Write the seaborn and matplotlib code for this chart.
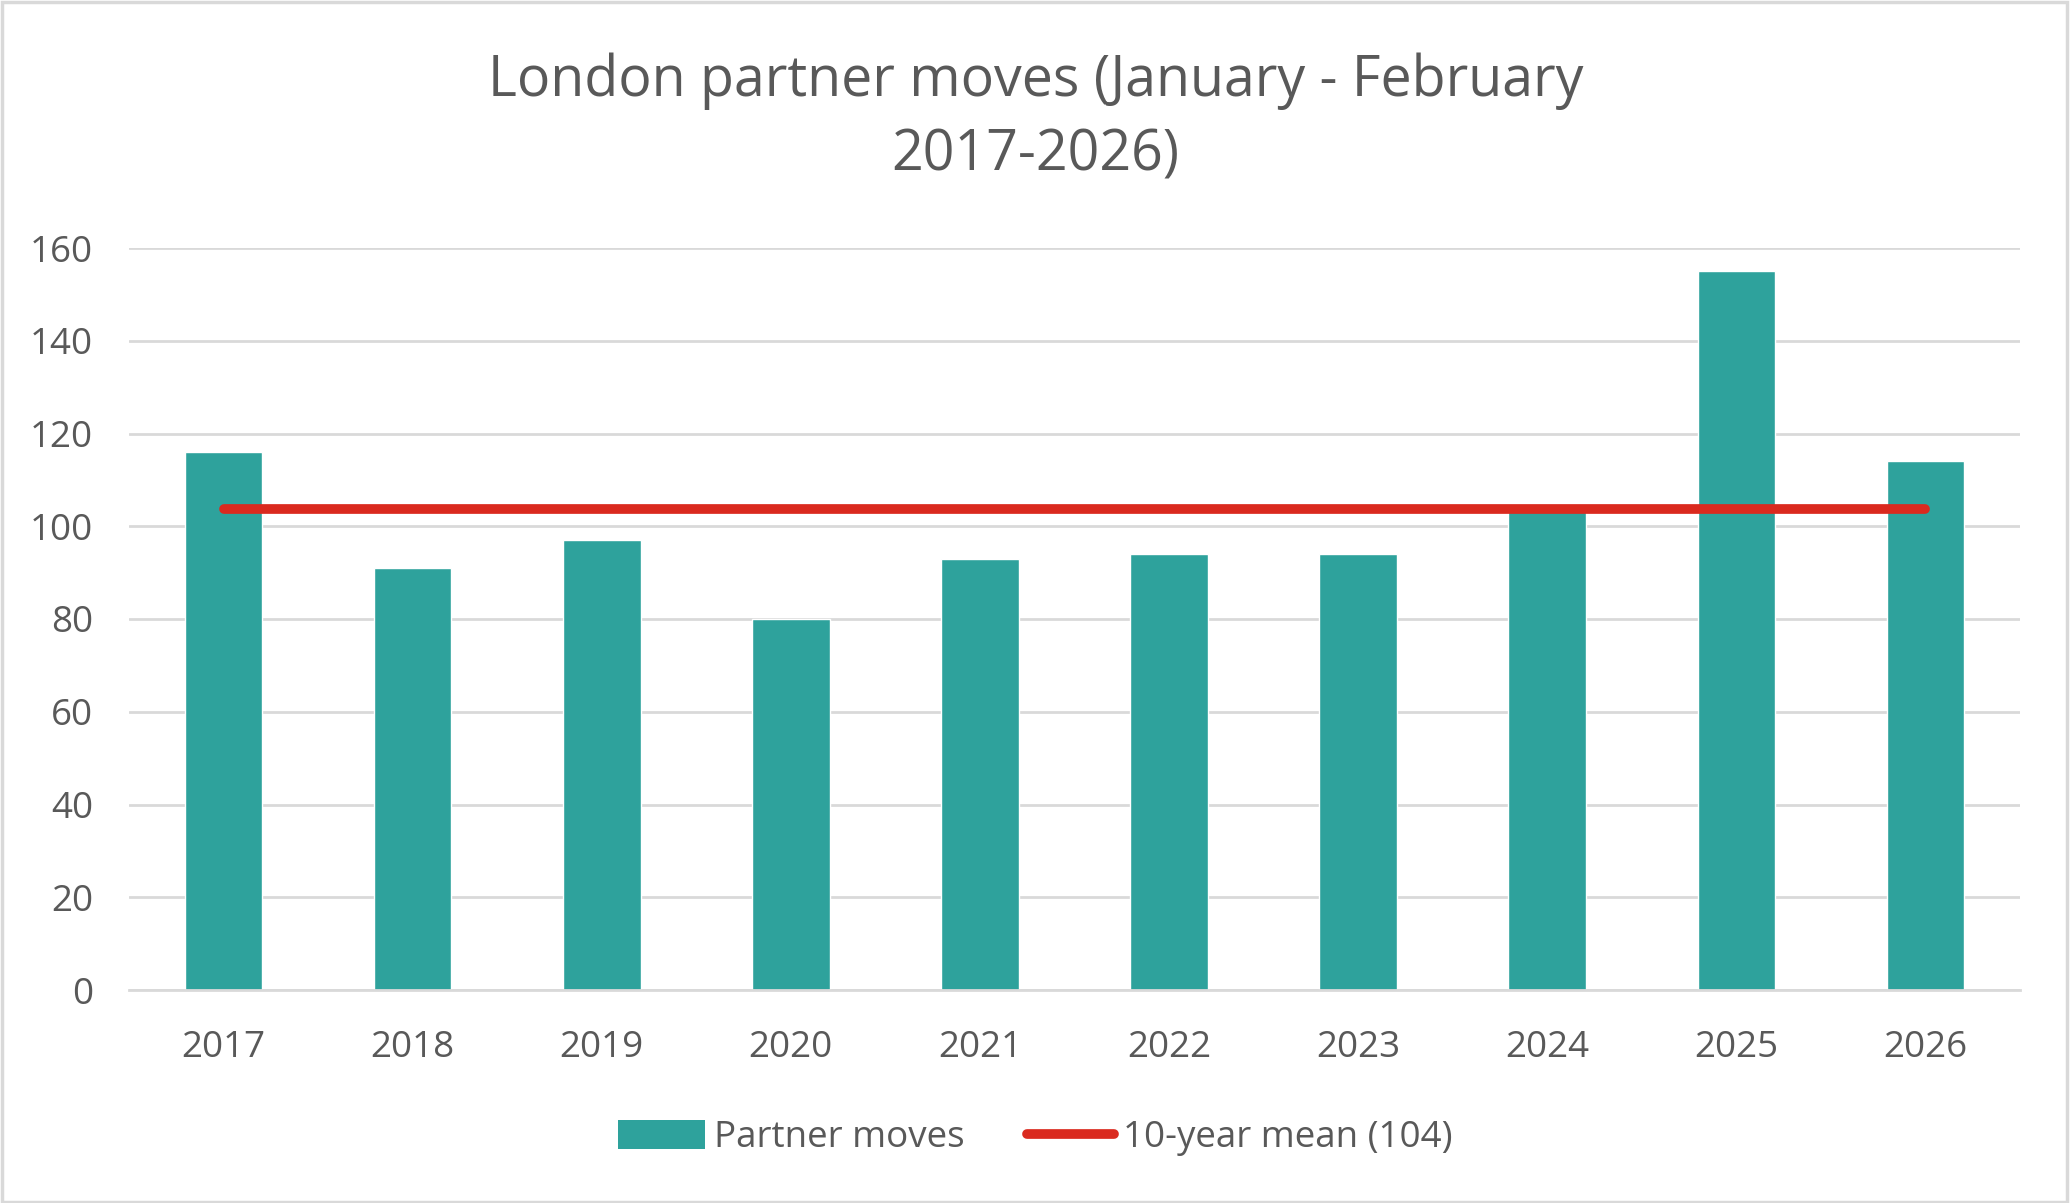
import numpy as np
import pandas as pd
import matplotlib
matplotlib.use("Agg")
import matplotlib.pyplot as plt
import seaborn as sns
from matplotlib.patches import Rectangle
from matplotlib.lines import Line2D
from matplotlib.patches import Patch

years = ["2017", "2018", "2019", "2020", "2021", "2022", "2023", "2024", "2025", "2026"]
partner_moves = [116, 91, 97, 80, 93, 94, 94, 104, 155, 114]
mean_value = float(np.mean(partner_moves))
mean_line = [mean_value] * len(years)
y_ticks = [0, 20, 40, 60, 80, 100, 120, 140, 160]

title_lines = ["London partner moves (January - February", "2017-2026)"]
bar_label = "Partner moves"
line_label = f"10-year mean ({round(mean_value)})"

TEAL = "#2EA29C"
RED = "#DA2A1F"
TEXT = "#595959"
GRID = "#D9D9D9"

sns.set_theme(style="white")
plt.rcParams["font.family"] = ["Open Sans", "DejaVu Sans"]

fig = plt.figure(figsize=(20.71, 12.03), dpi=100)
ax = fig.add_axes([129 / 2071, 1 - 990 / 1203, (2020 - 129) / 2071, (990 - 248) / 1203])

df = pd.DataFrame({"year": years, "moves": partner_moves, "mean": mean_line})
sns.barplot(data=df, x="year", y="moves", color=TEAL, width=0.41, ax=ax,
            saturation=1, zorder=2)
pos = np.arange(len(years))
sns.lineplot(x=pos, y=df["mean"].values, color=RED, linewidth=7, ax=ax,
             zorder=3, solid_capstyle="round")

ax.set_ylim(0, 160)
ax.set_xlim(-0.5, len(years) - 0.5)
ax.set_yticks(y_ticks)
ax.yaxis.grid(True, color=GRID, linewidth=2, zorder=0)
ax.set_axisbelow(True)
for s in ["top", "right", "left"]:
    ax.spines[s].set_visible(False)
ax.spines["bottom"].set_color(GRID)
ax.spines["bottom"].set_linewidth(2)
ax.set_xlabel("")
ax.set_ylabel("")
ax.tick_params(axis="both", length=0, labelsize=26.5, labelcolor=TEXT)
ax.tick_params(axis="y", pad=26)
ax.tick_params(axis="x", pad=29)

fig.text(0.5, 1 - 81 / 1203, title_lines[0], ha="center", va="center",
         fontsize=40, color=TEXT)
fig.text(0.5, 1 - 156 / 1203, title_lines[1], ha="center", va="center",
         fontsize=40, color=TEXT)

handles = [Patch(facecolor=TEAL, edgecolor="none", label=bar_label),
           Line2D([0], [0], color=RED, linewidth=7, solid_capstyle="round", label=line_label)]
fig.legend(handles=handles, loc="center", bbox_to_anchor=(0.5, 1 - 1138 / 1203), ncol=2,
           frameon=False, fontsize=26.5, labelcolor=TEXT, handlelength=2.35, handleheight=0.85,
           handletextpad=0.25, columnspacing=1.7)

fig.patches.append(Rectangle((0.001, 0.001), 0.997, 0.997, transform=fig.transFigure,
                             fill=False, edgecolor=GRID, linewidth=2.5))

fig.savefig("out.png", dpi=100, facecolor="white")
